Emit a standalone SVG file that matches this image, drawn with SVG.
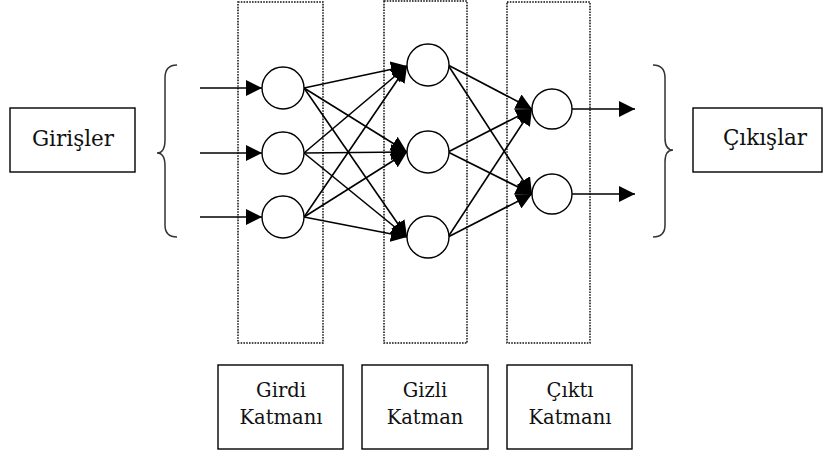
<svg xmlns="http://www.w3.org/2000/svg" width="832" height="454" viewBox="0 0 832 454">
<defs>
<marker id="ah" markerUnits="userSpaceOnUse" markerWidth="18" markerHeight="16" refX="16" refY="8" orient="auto">
<path d="M0,0 L16,8 L0,16 Z" fill="#000"/>
</marker>
<style>
.layer{fill:none;stroke:#111;stroke-width:1.5;stroke-dasharray:1.6 1.2}
.neuron{fill:#fff;stroke:#000;stroke-width:1.4}
.box{fill:#fff;stroke:#000;stroke-width:1.4}
.lbl{fill:#111;text-anchor:middle;font-family:"DejaVu Serif","Liberation Serif","Times New Roman",serif}
.side{font-size:21.5px}
.bot{font-size:19.5px}
.edge{stroke:#000;stroke-width:1.6;fill:none;marker-end:url(#ah)}
.brace{fill:none;stroke:#333;stroke-width:1.5}
</style>
</defs>
<rect width="832" height="454" fill="#fff"/>
<g id="layers">
<rect class="layer" x="238" y="2" width="85" height="341"/>
<rect class="layer" x="384" y="1" width="83" height="342"/>
<rect class="layer" x="507" y="2" width="83" height="341"/>
</g>
<g id="braces">
<path class="brace" d="M177,65 Q165,65 165,78 L165,140 Q165,153 157,153 Q165,153 165,166 L165,225 Q165,237 177,237"/>
<path class="brace" d="M653,65 Q665,65 665,78 L665,138 Q665,150 673,150 Q665,150 665,162 L665,225 Q665,237 653,237"/>
</g>
<g id="connectors">
<line class="edge" x1="200" y1="88" x2="262" y2="88"/>
<line class="edge" x1="200" y1="153" x2="262" y2="153"/>
<line class="edge" x1="200" y1="217" x2="262" y2="217"/>
<line class="edge" x1="304" y1="88" x2="407" y2="66"/>
<line class="edge" x1="304" y1="88" x2="407" y2="152"/>
<line class="edge" x1="304" y1="88" x2="407" y2="237"/>
<line class="edge" x1="304" y1="153" x2="407" y2="66"/>
<line class="edge" x1="304" y1="153" x2="407" y2="152"/>
<line class="edge" x1="304" y1="153" x2="407" y2="237"/>
<line class="edge" x1="304" y1="217" x2="407" y2="66"/>
<line class="edge" x1="304" y1="217" x2="407" y2="152"/>
<line class="edge" x1="304" y1="217" x2="407" y2="237"/>
<line class="edge" x1="448" y1="65" x2="532" y2="109"/>
<line class="edge" x1="448" y1="65" x2="532" y2="194"/>
<line class="edge" x1="448" y1="152" x2="532" y2="109"/>
<line class="edge" x1="448" y1="152" x2="532" y2="194"/>
<line class="edge" x1="448" y1="237" x2="532" y2="109"/>
<line class="edge" x1="448" y1="237" x2="532" y2="194"/>
<line class="edge" x1="572" y1="109" x2="635" y2="109"/>
<line class="edge" x1="572" y1="194" x2="635" y2="194"/>
</g>
<g id="in1"><circle class="neuron" cx="283" cy="88" r="21"/></g>
<g id="in2"><circle class="neuron" cx="283" cy="153" r="21"/></g>
<g id="in3"><circle class="neuron" cx="283" cy="217" r="21"/></g>
<g id="h1"><circle class="neuron" cx="428" cy="65" r="21"/></g>
<g id="h2"><circle class="neuron" cx="428" cy="152" r="21"/></g>
<g id="h3"><circle class="neuron" cx="428" cy="237" r="21"/></g>
<g id="o1"><circle class="neuron" cx="552" cy="109" r="20"/></g>
<g id="o2"><circle class="neuron" cx="552" cy="194" r="20"/></g>
<g id="girisler">
<rect class="box" x="10" y="108" width="125" height="64"/>
<text class="lbl side" x="73" y="146">Girişler</text>
</g>
<g id="cikislar">
<rect class="box" x="693" y="108" width="129" height="64"/>
<text class="lbl side" x="765" y="145">Çıkışlar</text>
</g>
<g id="girdi">
<rect class="box" x="218" y="365" width="125" height="84"/>
<text class="lbl bot" x="281" y="397">Girdi</text>
<text class="lbl bot" x="281" y="424">Katmanı</text>
</g>
<g id="gizli">
<rect class="box" x="362" y="365" width="126" height="84"/>
<text class="lbl bot" x="425" y="397">Gizli</text>
<text class="lbl bot" x="425" y="424">Katman</text>
</g>
<g id="cikti">
<rect class="box" x="507" y="365" width="125" height="84"/>
<text class="lbl bot" x="570" y="397">Çıktı</text>
<text class="lbl bot" x="570" y="424">Katmanı</text>
</g>
</svg>
